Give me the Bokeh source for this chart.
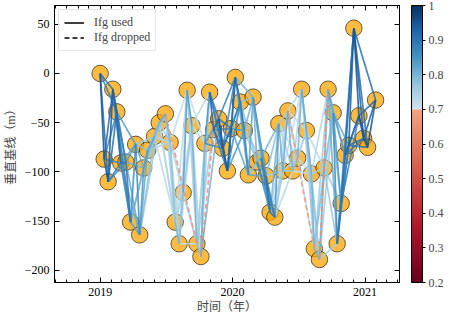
import numpy as np
import pandas as pd
from bokeh.plotting import figure
from bokeh.models import (ColumnDataSource, LinearColorMapper, ColorBar, FixedTicker,
                          LinearAxis, Range1d, Label, Legend, LegendItem, CustomJSTickFormatter)
from bokeh.embed import file_html
from bokeh.resources import INLINE

# ---------------- data ----------------
dates = ["2019-01-01", "2019-01-12", "2019-01-23", "2019-02-05", "2019-02-16", "2019-02-27",
         "2019-03-13", "2019-03-26", "2019-04-09", "2019-04-20", "2019-05-01", "2019-05-12",
         "2019-05-31", "2019-06-13", "2019-06-30", "2019-07-13", "2019-07-27", "2019-08-07",
         "2019-08-18", "2019-08-29", "2019-09-11", "2019-09-25", "2019-10-06", "2019-10-17",
         "2019-10-30", "2019-11-10", "2019-11-24", "2019-12-05", "2019-12-18", "2019-12-29",
         "2020-01-09", "2020-01-23", "2020-02-03", "2020-02-14", "2020-02-27", "2020-03-09",
         "2020-03-20", "2020-04-03", "2020-04-14", "2020-04-27", "2020-05-08", "2020-05-19",
         "2020-06-02", "2020-06-15", "2020-06-29", "2020-07-10", "2020-07-23", "2020-08-06",
         "2020-08-14", "2020-08-28", "2020-09-10", "2020-09-21", "2020-10-05", "2020-10-16",
         "2020-10-27", "2020-11-07", "2020-11-17", "2020-12-01", "2020-12-15", "2020-12-28",
         "2021-01-08", "2021-01-30"]
bperp = [0, -87, -110, -16, -39, -91, -90, -151, -72, -164, -96, -78, -64, -50, -41, -70,
         -151, -173, -121, -17, -53, -173, -186, -71, -19, -57, -46, -76, -99, -56, -4, -29,
         -58, -103, -24, -90, -86, -104, -141, -146, -51, -99, -38, -99, -86, -16, -58, -102,
         -178, -189, -96, -16, -40, -173, -132, -83, -73, 46, -43, -66, -75, -27]

# coherence of pairs (i, i+1), (i, i+2), (i, i+3), (i, i+4)
coh_next1 = [0.95, 0.94, 0.94, 0.93, 0.92, 0.90, 0.90, 0.86, 0.86, 0.84, 0.84, 0.82, 0.80,
             0.82, 0.80, 0.78, 0.80, 0.79, 0.83, 0.84, 0.80, 0.79, 0.81, 0.85, 0.92, 0.93,
             0.94, 0.94, 0.94, 0.92, 0.90, 0.88, 0.86, 0.82, 0.80, 0.80, 0.82, 0.90, 0.90,
             0.84, 0.80, 0.82, 0.80, 0.79, 0.80, 0.82, 0.81, 0.80, 0.80, 0.81, 0.81, 0.83,
             0.86, 0.90, 0.90, 0.93, 0.94, 0.95, 0.95, 0.95, 0.95]
coh_next2 = [0.92, 0.92, 0.91, 0.90, 0.88, 0.88, 0.84, 0.84, 0.82, 0.82, 0.80, 0.78, 0.77,
             0.76, 0.75, 0.74, 0.75, 0.74, 0.77, 0.75, 0.74, 0.75, 0.76, 0.83, 0.90, 0.91,
             0.92, 0.92, 0.90, 0.88, 0.86, 0.84, 0.80, 0.78, 0.78, 0.80, 0.88, 0.86, 0.80,
             0.77, 0.76, 0.75, 0.75, 0.74, 0.75, 0.76, 0.77, 0.77, 0.78, 0.64, 0.79, 0.81,
             0.84, 0.88, 0.88, 0.91, 0.92, 0.93, 0.93, 0.93]
coh_next3 = [0.90, 0.88, 0.88, 0.86, 0.86, 0.82, 0.82, 0.80, 0.78, 0.78, 0.76, 0.75, 0.74,
             0.74, 0.73, 0.73, 0.73, 0.72, 0.74, 0.73, 0.73, 0.73, 0.63, 0.81, 0.88, 0.89,
             0.90, 0.88, 0.86, 0.84, 0.82, 0.78, 0.76, 0.76, 0.84, 0.86, 0.88, 0.78, 0.75,
             0.74, 0.74, 0.73, 0.73, 0.73, 0.73, 0.74, 0.75, 0.75, 0.76, 0.76, 0.77, 0.79,
             0.84, 0.86, 0.89, 0.90, 0.91, 0.91, 0.92]
coh_next4 = [0.88, 0.87, 0.86, 0.85, 0.84, 0.80,
             0.80, 0.78, 0.77, 0.76, 0.75, 0.74, 0.73,
             0.73, 0.72, 0.72, 0.72, 0.72, 0.72, 0.72, 0.73, 0.76,
             0.80, 0.86, 0.87, 0.88, 0.88, 0.86, 0.84, 0.82, 0.80, 0.78, 0.76,
             0.82, 0.84, 0.86, 0.80, 0.76, 0.74, 0.73, 0.72,
             0.72, 0.72, 0.72, 0.72, 0.73, 0.73, 0.74, 0.74, 0.75, 0.76, 0.78,
             0.82, 0.85, 0.88, 0.89, 0.90, 0.91]
# extra long pairs (first index, second index, coherence)
extra_pairs = [(14, 21, 0.64), (42, 48, 0.65)]
coh_threshold = 0.7

y_ticks = [-200, -150, -100, -50, 0, 50]
year_ticks = ["2019-01-01", "2020-01-01", "2021-01-01"]
cbar_ticks = [0.2, 0.3, 0.4, 0.5, 0.6, 0.7, 0.8, 0.9, 1.0]

x_label = "时间（年）"
y_label = "垂直基线（m）"
cbar_label = "平均空间相关性"
legend_labels = ["Ifg used", "Ifg dropped"]

# ---------------- styling helpers ----------------
SERIF = "Liberation Serif"
CJK = "Liberation Serif, Noto Sans CJK SC"


def hex2rgb(h):
    h = h.lstrip("#")
    return np.array([int(h[k:k + 2], 16) for k in (0, 2, 4)], dtype=float)


red_v = [0.2, 0.367, 0.533, 0.7]
red_c = ["#67001f", "#b2182b", "#d6604d", "#f4a582"]
blue_v = [0.7, 0.775, 0.85, 0.925, 1.0]
blue_c = ["#d1e5f0", "#92c5de", "#4393c3", "#2166ac", "#053061"]


def cmap_color(v):
    if v < 0.7:
        vs, cs = red_v, red_c
    else:
        vs, cs = blue_v, blue_c
    rgb = np.array([hex2rgb(c) for c in cs])
    out = [np.interp(v, vs, rgb[:, k]) for k in range(3)]
    return "#%02x%02x%02x" % tuple(int(round(c)) for c in out)


palette = [cmap_color(0.2 + (k + 0.5) * 0.8 / 256) for k in range(256)]
mapper = LinearColorMapper(palette=palette, low=0.2, high=1.0)

# ---------------- sources ----------------
dt = pd.to_datetime(dates)
pts = ColumnDataSource(dict(date=dt, bperp=bperp))

edges = []
for k, cl in ((1, coh_next1), (2, coh_next2), (3, coh_next3), (4, coh_next4)):
    for i, c in enumerate(cl):
        edges.append((i, i + k, c))
edges += [tuple(e) for e in extra_pairs]
used = sorted([e for e in edges if e[2] >= coh_threshold], key=lambda e: e[2])
drop = [e for e in edges if e[2] < coh_threshold]


def seg_source(lst):
    return ColumnDataSource(dict(
        x0=[dt[i] for i, j, c in lst], y0=[bperp[i] for i, j, c in lst],
        x1=[dt[j] for i, j, c in lst], y1=[bperp[j] for i, j, c in lst],
        coh=[c for i, j, c in lst]))


# ---------------- figure ----------------
p = figure(width=465, height=316, x_axis_type="datetime", output_backend="svg",
           toolbar_location=None,
           x_range=Range1d(pd.Timestamp("2018-08-28"), pd.Timestamp("2021-04-06")),
           y_range=Range1d(-212.4, 69.1),
           min_border_left=50, min_border_right=66, min_border_top=5, min_border_bottom=34)
p.background_fill_color = "white"
p.border_fill_color = "white"
p.outline_line_color = "black"
p.grid.visible = False

p.scatter("date", "bperp", source=pts, size=16.5, fill_color="orange", fill_alpha=0.75,
          line_color="black", line_alpha=0.6, line_width=1)

p.segment("x0", "y0", "x1", "y1", source=seg_source(used),
          line_color={"field": "coh", "transform": mapper}, line_width=1.7,
          line_alpha=0.85)
p.segment("x0", "y0", "x1", "y1", source=seg_source(drop),
          line_color={"field": "coh", "transform": mapper}, line_width=1.8,
          line_alpha=0.75, line_dash="5 3")

# legend proxies (no visible data)
proxy = ColumnDataSource(dict(x=[dt[0], dt[1]], y=[np.nan, np.nan]))
r_used = p.line("x", "y", source=proxy, line_color="black", line_width=1.5)
r_drop = p.line("x", "y", source=proxy, line_color="black", line_width=1.5, line_dash="5 3")
legend = Legend(items=[LegendItem(label=legend_labels[0], renderers=[r_used]),
                       LegendItem(label=legend_labels[1], renderers=[r_drop])],
                location="top_left", margin=4, padding=5, spacing=0,
                glyph_width=20, glyph_height=15, label_height=15, label_standoff=10,
                label_text_font=SERIF, label_text_font_size="12px",
                border_line_color="#cccccc", border_line_width=1,
                background_fill_alpha=0.8)
p.add_layout(legend)

# axes
major_ms = [pd.Timestamp(t).value // 10**6 for t in year_ticks]
minor_ms = [t.value // 10**6 for t in pd.date_range("2018-09-01", "2021-04-01", freq="MS")]
xticker = FixedTicker(ticks=major_ms, minor_ticks=minor_ms)
yticker = FixedTicker(ticks=y_ticks)


def style_axis(ax, show_labels=True):
    ax.axis_line_color = "black"
    ax.major_tick_line_color = "black"
    ax.minor_tick_line_color = "black"
    ax.major_tick_in = 5
    ax.major_tick_out = 0
    ax.minor_tick_in = 3
    ax.minor_tick_out = 0
    ax.major_label_text_font = SERIF
    if show_labels:
        ax.major_label_text_font_size = "12px"
        ax.major_label_text_color = "black"
        ax.major_label_standoff = 5
    else:
        ax.major_label_text_font_size = "0px"
        ax.major_label_text_color = None
        ax.major_label_standoff = 0


xa = p.xaxis[0]
xa.ticker = xticker
xa.formatter = CustomJSTickFormatter(code="return String(new Date(tick).getUTCFullYear());")
style_axis(xa)
xa.axis_label = x_label
xa.axis_label_text_font = CJK
xa.axis_label_text_font_size = "12px"
xa.axis_label_text_font_style = "normal"
xa.axis_label_standoff = 1

ya = p.yaxis[0]
ya.ticker = yticker
style_axis(ya)
ya.minor_tick_line_color = None
ya.axis_label = y_label
ya.axis_label_text_font = CJK
ya.axis_label_text_font_size = "12px"
ya.axis_label_text_font_style = "normal"
ya.axis_label_standoff = 4

top = LinearAxis(ticker=xticker)
style_axis(top, show_labels=False)
p.add_layout(top, "above")

right = LinearAxis(ticker=yticker)
style_axis(right, show_labels=False)
right.minor_tick_line_color = None
p.add_layout(right, "right")

# colour bar
cb = ColorBar(color_mapper=mapper, width=11, height=277, location=(357, 0),
              padding=0, margin=0, ticker=FixedTicker(ticks=cbar_ticks),
              formatter=CustomJSTickFormatter(code="return String(Math.round(tick*10)/10);"),
              major_label_text_font=SERIF, major_label_text_font_size="12px",
              major_tick_line_color="black", major_tick_in=0, major_tick_out=3,
              label_standoff=3, bar_line_color="black", bar_line_width=1,
              background_fill_alpha=0, border_line_color=None)
p.add_layout(cb)

p.add_layout(Label(x=404, y=138.5, x_units="screen", y_units="screen", text=cbar_label,
                   angle=90, angle_units="deg", text_align="center", text_baseline="middle",
                   text_font="Noto Sans CJK SC", text_font_size="11px",
                   text_color="black"))

open("out.html", "w").write(file_html(p, INLINE))
